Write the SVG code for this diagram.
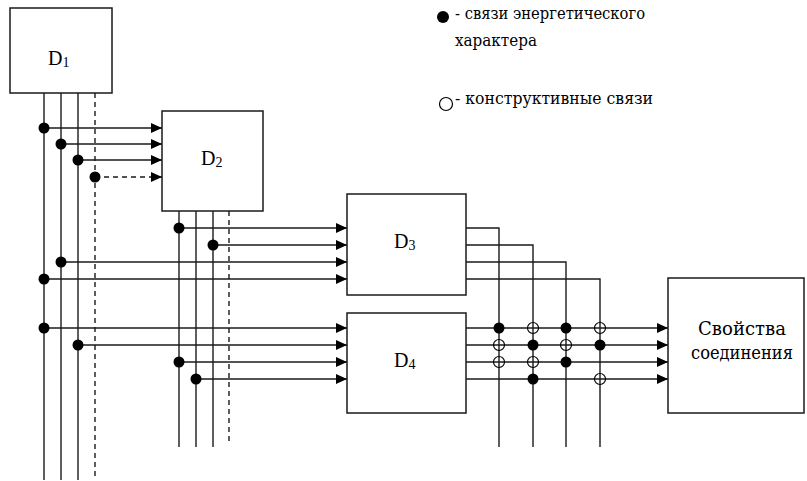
<svg xmlns="http://www.w3.org/2000/svg" width="807" height="481" viewBox="0 0 807 481">
  <style>
    .box { fill: #fff; stroke: #1a1a1a; stroke-width: 1.5; }
    .ln { fill: none; stroke: #1a1a1a; stroke-width: 1.4; }
    .dash { fill: none; stroke: #1a1a1a; stroke-width: 1.4; stroke-dasharray: 5 4; }
    .dot { fill: #000; }
    .ring { fill: none; stroke: #000; stroke-width: 1.2; }
    .lbl { font-family: "Liberation Serif", "Times New Roman", serif; fill: #000; }
    .cyr { font-family: "DejaVu Serif", "Liberation Serif", serif; fill: #000; }
  </style>
  <defs>
    <marker id="arr" viewBox="0 0 11 10" refX="11" refY="5" markerWidth="11" markerHeight="10" markerUnits="userSpaceOnUse" orient="auto">
      <path d="M0,0 L11,5 L0,10 Z" fill="#000"/>
    </marker>
  </defs>
  <rect width="807" height="481" fill="#fff"/>

  <!-- connectors -->
  <g id="connectors">
    <!-- D1 output buses -->
    <line class="ln" x1="44" y1="93" x2="44" y2="480"/>
    <line class="ln" x1="61" y1="93" x2="61" y2="480"/>
    <line class="ln" x1="78" y1="93" x2="78" y2="480"/>
    <line class="dash" x1="95" y1="93" x2="95" y2="480"/>

    <!-- D1 -> D2 -->
    <line class="ln" x1="44" y1="128" x2="162" y2="128" marker-end="url(#arr)"/>
    <line class="ln" x1="61" y1="144" x2="162" y2="144" marker-end="url(#arr)"/>
    <line class="ln" x1="78" y1="160" x2="162" y2="160" marker-end="url(#arr)"/>
    <line class="dash" x1="95" y1="177" x2="162" y2="177" marker-end="url(#arr)"/>

    <!-- D2 output buses -->
    <line class="ln" x1="179" y1="211" x2="179" y2="447"/>
    <line class="ln" x1="196" y1="211" x2="196" y2="447"/>
    <line class="ln" x1="213" y1="211" x2="213" y2="447"/>
    <line class="dash" x1="229" y1="211" x2="229" y2="442"/>

    <!-- inputs of D3 -->
    <line class="ln" x1="179" y1="228" x2="347" y2="228" marker-end="url(#arr)"/>
    <line class="ln" x1="213" y1="245" x2="347" y2="245" marker-end="url(#arr)"/>
    <line class="ln" x1="61" y1="262" x2="347" y2="262" marker-end="url(#arr)"/>
    <line class="ln" x1="44" y1="279" x2="347" y2="279" marker-end="url(#arr)"/>

    <!-- inputs of D4 -->
    <line class="ln" x1="44" y1="328" x2="347" y2="328" marker-end="url(#arr)"/>
    <line class="ln" x1="78" y1="345" x2="347" y2="345" marker-end="url(#arr)"/>
    <line class="ln" x1="179" y1="362" x2="347" y2="362" marker-end="url(#arr)"/>
    <line class="ln" x1="196" y1="379" x2="347" y2="379" marker-end="url(#arr)"/>

    <!-- D3 outputs turning down -->
    <polyline class="ln" points="466,228 499,228 499,447"/>
    <polyline class="ln" points="466,245 533,245 533,447"/>
    <polyline class="ln" points="466,262 566,262 566,447"/>
    <polyline class="ln" points="466,279 600,279 600,447"/>

    <!-- D4 -> properties -->
    <line class="ln" x1="466" y1="328" x2="668" y2="328" marker-end="url(#arr)"/>
    <line class="ln" x1="466" y1="345" x2="668" y2="345" marker-end="url(#arr)"/>
    <line class="ln" x1="466" y1="362" x2="668" y2="362" marker-end="url(#arr)"/>
    <line class="ln" x1="466" y1="379" x2="668" y2="379" marker-end="url(#arr)"/>

    <!-- junction points -->
    <circle class="dot" cx="44" cy="128" r="5.5"/>
    <circle class="dot" cx="61" cy="144" r="5.5"/>
    <circle class="dot" cx="78" cy="160" r="5.5"/>
    <circle class="dot" cx="95" cy="177" r="5.5"/>
    <circle class="dot" cx="179" cy="228" r="5.5"/>
    <circle class="dot" cx="213" cy="245" r="5.5"/>
    <circle class="dot" cx="61" cy="262" r="5.5"/>
    <circle class="dot" cx="44" cy="279" r="5.5"/>
    <circle class="dot" cx="44" cy="328" r="5.5"/>
    <circle class="dot" cx="78" cy="345" r="5.5"/>
    <circle class="dot" cx="179" cy="362" r="5.5"/>
    <circle class="dot" cx="196" cy="379" r="5.5"/>

    <!-- crossing matrix -->
    <circle class="dot" cx="499" cy="328" r="5.5"/>
    <circle class="ring" cx="533" cy="328" r="5.5"/>
    <circle class="dot" cx="566" cy="328" r="5.5"/>
    <circle class="ring" cx="600" cy="328" r="5.5"/>
    <circle class="ring" cx="499" cy="345" r="5.5"/>
    <circle class="dot" cx="533" cy="345" r="5.5"/>
    <circle class="ring" cx="566" cy="345" r="5.5"/>
    <circle class="dot" cx="600" cy="345" r="5.5"/>
    <circle class="ring" cx="499" cy="362" r="5.5"/>
    <circle class="ring" cx="533" cy="362" r="5.5"/>
    <circle class="dot" cx="566" cy="362" r="5.5"/>
    <circle class="dot" cx="533" cy="379" r="5.5"/>
    <circle class="ring" cx="600" cy="379" r="5.5"/>
  </g>

  <g id="D1">
    <rect class="box" x="10" y="8" width="102" height="85"/>
    <text class="lbl" x="48" y="65" font-size="20">D<tspan font-size="14" dy="2">1</tspan></text>
  </g>
  <g id="D2">
    <rect class="box" x="162" y="111" width="101" height="100"/>
    <text class="lbl" x="201" y="165" font-size="20">D<tspan font-size="14" dy="2">2</tspan></text>
  </g>
  <g id="D3">
    <rect class="box" x="347" y="194" width="119" height="101"/>
    <text class="lbl" x="394" y="248" font-size="20">D<tspan font-size="14" dy="2">3</tspan></text>
  </g>
  <g id="D4">
    <rect class="box" x="347" y="313" width="119" height="100"/>
    <text class="lbl" x="394" y="367" font-size="20">D<tspan font-size="14" dy="2">4</tspan></text>
  </g>
  <g id="properties">
    <rect class="box" x="668" y="278" width="136" height="135"/>
    <text class="cyr" x="742" y="335" font-size="18" text-anchor="middle" textLength="88" lengthAdjust="spacingAndGlyphs">Свойства</text>
    <text class="cyr" x="742" y="359" font-size="18" text-anchor="middle" textLength="102" lengthAdjust="spacingAndGlyphs">соединения</text>
  </g>

  <g id="legend">
    <circle class="dot" cx="443" cy="17" r="6"/>
    <text class="cyr" x="455" y="19" font-size="16" textLength="190" lengthAdjust="spacingAndGlyphs">- связи энергетического</text>
    <text class="cyr" x="455" y="46" font-size="16" textLength="82" lengthAdjust="spacingAndGlyphs">характера</text>
    <circle class="ring" cx="446" cy="104" r="6.5"/>
    <text class="cyr" x="455" y="104" font-size="16" textLength="198" lengthAdjust="spacingAndGlyphs">- конструктивные связи</text>
  </g>
</svg>
